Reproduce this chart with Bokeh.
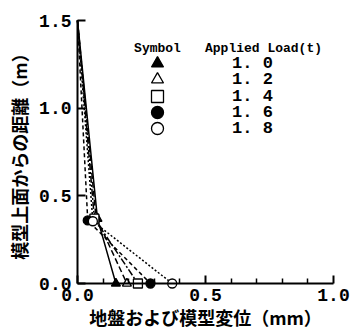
from bokeh.plotting import figure
from bokeh.models import Range1d, FixedTicker, PrintfTickFormatter
from bokeh.core.properties import value
from bokeh.embed import file_html
from bokeh.resources import INLINE

# ---- data ----
load_labels = ["1. 0", "1. 2", "1. 4", "1. 6", "1. 8"]
top_depth = 1.5
top_disp = [0.0, 0.0, 0.0, 0.0, 0.0]
mid_disp = [0.078, 0.072, 0.066, 0.040, 0.060]
mid_depth = [0.37, 0.38, 0.37, 0.36, 0.355]
bottom_disp = [0.15, 0.193, 0.236, 0.285, 0.37]
bottom_depth = [0.0, 0.0, 0.0, 0.0, 0.0]

marker_types = ["triangle", "triangle", "square", "circle", "circle"]
marker_fills = ["black", "white", "white", "black", "white"]
line_dashes = ["solid", "6 3", "7 2 2 2", "4 3", "2 2"]

x_major = [0.0, 0.5, 1.0]
x_minor = [0.1, 0.2, 0.3, 0.4, 0.6, 0.7, 0.8, 0.9]
y_major = [0.0, 0.5, 1.0, 1.5]

MONO = "Liberation Mono"
CJK = "Noto Sans CJK JP"

W, H = 353, 330
X0_PX, X_PER = 77, 256.0      # pixel of x=0, pixels per unit x
Y0_PX, Y_PER = 283, 175.33    # pixel of y=0, pixels per unit y

p = figure(width=W, height=H,
           x_range=Range1d(-X0_PX / X_PER, (W - X0_PX) / X_PER),
           y_range=Range1d((Y0_PX - H) / Y_PER, Y0_PX / Y_PER),
           output_backend="svg", toolbar_location=None, min_border=0)
p.outline_line_color = None
p.grid.visible = False

# axes
xa = p.xaxis[0]
ya = p.yaxis[0]
xa.fixed_location = 0
ya.fixed_location = 0
xa.bounds = (0, 1.0)
ya.bounds = (0, 1.5)
xa.ticker = FixedTicker(ticks=x_major, minor_ticks=x_minor)
ya.ticker = FixedTicker(ticks=y_major, minor_ticks=[])
for ax in (xa, ya):
    ax.formatter = PrintfTickFormatter(format="%.1f")
    ax.axis_line_width = 2
    ax.axis_line_color = "black"
    ax.major_tick_line_width = 2
    ax.minor_tick_line_width = 1.5
    ax.major_tick_in = 8
    ax.major_tick_out = 0
    ax.minor_tick_in = 5
    ax.minor_tick_out = 0
    ax.major_label_text_font = MONO
    ax.major_label_text_font_style = "bold"
    ax.major_label_text_font_size = "18px"
    ax.major_label_text_color = "black"
    ax.axis_label_text_font = CJK
    ax.axis_label_text_font_style = "bold"
    ax.axis_label_text_font_size = "18px"
    ax.axis_label_text_color = "black"
xa.major_label_standoff = 5
ya.major_label_standoff = 6
xa.axis_label = "地盤および模型変位（mm）"
ya.axis_label = "模型上面からの距離（m）"
xa.axis_label_standoff = 0
ya.axis_label_standoff = 4

# data lines and markers
for i in range(len(load_labels)):
    xs = [top_disp[i], mid_disp[i], bottom_disp[i]]
    ys = [top_depth, mid_depth[i], bottom_depth[i]]
    p.line(xs, ys, line_color="black", line_width=1.5, line_dash=line_dashes[i])
    p.scatter(xs[1:], ys[1:], marker=marker_types[i], size=9,
              fill_color=marker_fills[i], line_color="black", line_width=1.3)

# legend (positions computed from pixel layout)
def dx(px):
    return (px - X0_PX) / X_PER

def dy(py):
    return (Y0_PX - py) / Y_PER

row_py = [63, 79, 96, 112, 128]
p.text([dx(157)], [dy(48)], text=["Symbol"], text_font=value(MONO),
       text_font_style="bold", text_font_size="13px",
       text_align="center", text_baseline="middle", text_color="black")
p.text([dx(263)], [dy(48)], text=["Applied Load(t)"], text_font=value(MONO),
       text_font_style="bold", text_font_size="13px",
       text_align="center", text_baseline="middle", text_color="black")
for i, lab in enumerate(load_labels):
    p.scatter([dx(157)], [dy(row_py[i])], marker=marker_types[i], size=12,
              fill_color=marker_fills[i], line_color="black", line_width=1.3)
    p.text([dx(252)], [dy(row_py[i])], text=[lab], text_font=value(MONO),
           text_font_style="bold", text_font_size="17px",
           text_align="center", text_baseline="middle", text_color="black")

open("out.html", "w").write(file_html(p, INLINE))
